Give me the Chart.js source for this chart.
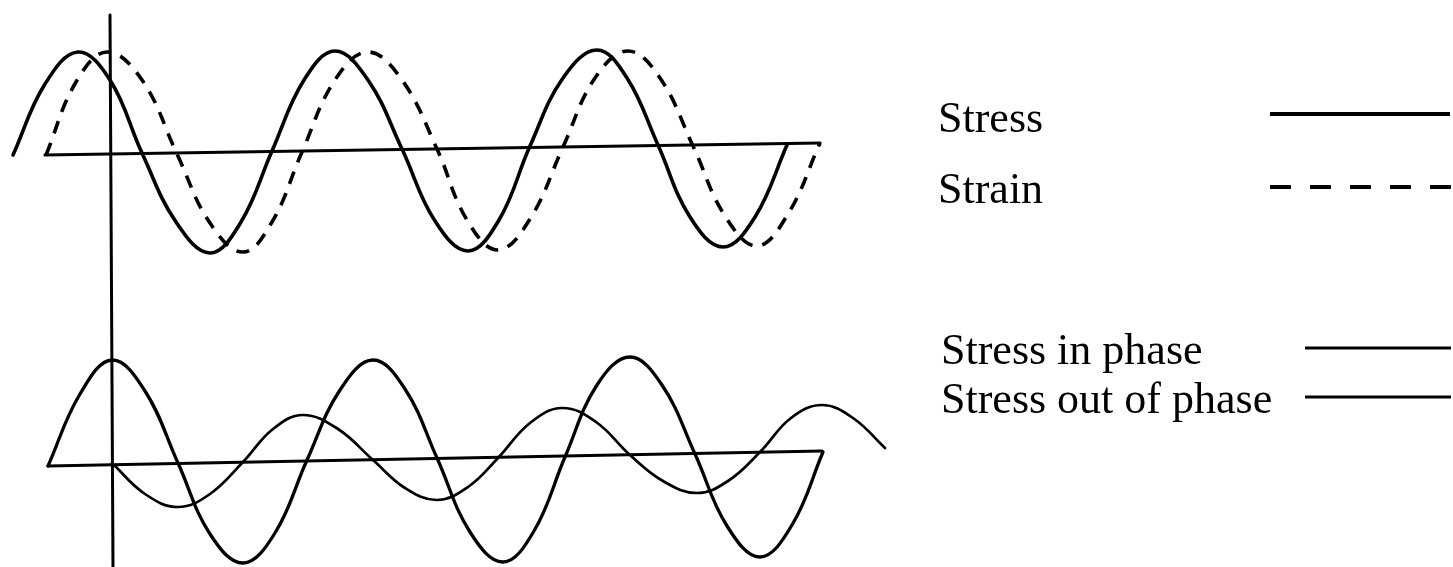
<!DOCTYPE html>
<html>
<head>
<meta charset="utf-8">
<script src="https://cdn.jsdelivr.net/npm/chart.js@4"></script>
<style>
  body { margin: 0; background: #fff; }
  #wrap { width: 1453px; height: 567px; }
</style>
</head>
<body>
<div id="wrap"><canvas id="waveChart" width="1453" height="567"></canvas></div>
<script>
// time in s (0 = vertical axis), amplitude in arbitrary units
var stressTop = [[-0.97,-0.05],[-0.65,0.66],[-0.32,0.98],[0.00,0.70],[0.32,-0.03],[0.66,-0.72],[1.00,-1.03],[1.31,-0.72],[1.62,-0.01],[1.94,0.70],[2.25,0.99],[2.58,0.70],[2.92,0.01],[3.25,-0.71],[3.58,-1.01],[3.89,-0.70],[4.20,0.04],[4.53,0.72],[4.87,1.00],[5.17,0.72],[5.48,0.05],[5.80,-0.67],[6.13,-0.97],[6.45,-0.67],[6.77,0.05]];
var strainTop = [[-0.64,-0.05],[-0.34,0.68],[-0.03,0.98],[0.32,0.70],[0.67,-0.04],[1.00,-0.73],[1.33,-1.02],[1.62,-0.72],[1.92,-0.02],[2.25,0.70],[2.58,0.98],[2.92,0.70],[3.27,0.01],[3.57,-0.70],[3.88,-1.00],[4.20,-0.69],[4.53,0.03],[4.85,0.72],[5.18,0.99],[5.50,0.72],[5.83,0.04],[6.15,-0.66],[6.47,-0.96],[6.78,-0.64],[7.10,0.07]];
var stressInPhase = [[-0.62,-0.06],[-0.30,0.66],[0.02,1.00],[0.35,0.69],[0.68,-0.03],[1.00,-0.74],[1.33,-1.03],[1.65,-0.73],[1.97,0.00],[2.30,0.70],[2.63,1.00],[2.95,0.71],[3.27,0.02],[3.60,-0.72],[3.93,-1.02],[4.24,-0.71],[4.55,0.03],[4.87,0.75],[5.20,1.03],[5.52,0.75],[5.85,0.06],[6.17,-0.66],[6.50,-0.97],[6.82,-0.65],[7.13,0.08]];
var stressOutPhase = [[0.02,-0.03],[0.35,-0.34],[0.68,-0.47],[1.00,-0.34],[1.33,-0.02],[1.63,0.31],[1.93,0.45],[2.28,0.31],[2.63,0.00],[2.95,-0.28],[3.27,-0.40],[3.58,-0.27],[3.88,0.02],[4.20,0.37],[4.52,0.52],[4.86,0.38],[5.20,0.05],[5.53,-0.21],[5.87,-0.33],[6.18,-0.21],[6.50,0.08],[6.81,0.42],[7.12,0.55],[7.43,0.42],[7.75,0.12]];
var baseTop = [[-0.65,-0.05],[7.10,0.07]];
var baseBottom = [[-0.62,-0.06],[7.12,0.09]];
var timeAxis = [[0.00,1.35],[0.03,-4.17]];

var legendLabels = ['Stress', 'Strain', 'Stress in phase', 'Stress out of phase'];

function pts(arr) {
    return arr.map(function (p) { return { x: p[0], y: p[1] }; });
}

function line(label, arr, axis, width, dash) {
    return {
        label: label,
        data: pts(arr),
        yAxisID: axis,
        showLine: true,
        borderColor: '#000',
        borderWidth: width,
        borderDash: dash || [],
        borderCapStyle: dash ? 'butt' : 'round',
        borderJoinStyle: 'round',
        pointRadius: 0,
        tension: 0.4,
        fill: false
    };
}

// custom legend: text on the left, line sample on the right
var legendPlugin = {
    id: 'sideLegend',
    afterDraw: function (chart) {
        var ctx = chart.ctx;
        ctx.save();
        ctx.fillStyle = '#000';
        ctx.strokeStyle = '#000';
        ctx.font = '44px "Liberation Serif", "Times New Roman", serif';
        ctx.textBaseline = 'alphabetic';
        var rows = [
            { tx: 938, ty: 132, x0: 1270, x1: 1450, ly: 114, w: 4, dash: [] },
            { tx: 938, ty: 203, x0: 1270, x1: 1451, ly: 187, w: 4, dash: [21, 19] },
            { tx: 941, ty: 364, x0: 1305, x1: 1451, ly: 348, w: 3, dash: [] },
            { tx: 941, ty: 413, x0: 1305, x1: 1451, ly: 397, w: 3, dash: [] }
        ];
        rows.forEach(function (r, i) {
            ctx.fillText(legendLabels[i], r.tx, r.ty);
            ctx.beginPath();
            ctx.lineWidth = r.w;
            ctx.setLineDash(r.dash);
            ctx.moveTo(r.x0, r.ly);
            ctx.lineTo(r.x1, r.ly);
            ctx.stroke();
        });
        ctx.restore();
    }
};

var waveConfig = {
    type: 'scatter',
    data: {
        datasets: [
            line('axis', timeAxis, 'yTop', 3),
            line('base top', baseTop, 'yTop', 3.2),
            line('base bottom', baseBottom, 'yBot', 3.2),
            line(legendLabels[0], stressTop, 'yTop', 3.6),
            line(legendLabels[1], strainTop, 'yTop', 3.6, [13, 10]),
            line(legendLabels[2], stressInPhase, 'yBot', 3.3),
            line(legendLabels[3], stressOutPhase, 'yBot', 2.7)
        ]
    },
    options: {
        responsive: false,
        animation: false,
        layout: { padding: 0 },
        plugins: {
            legend: { display: false },
            tooltip: { enabled: false }
        },
        scales: {
            x: { type: 'linear', min: -1.10, max: 13.43, display: false },
            yTop: { type: 'linear', min: -4.17, max: 1.50, display: false },
            yBot: { type: 'linear', min: -1.07, max: 4.60, display: false }
        }
    },
    plugins: [legendPlugin]
};

const waveChart = new Chart(document.getElementById('waveChart'), waveConfig);
</script>
</body>
</html>
